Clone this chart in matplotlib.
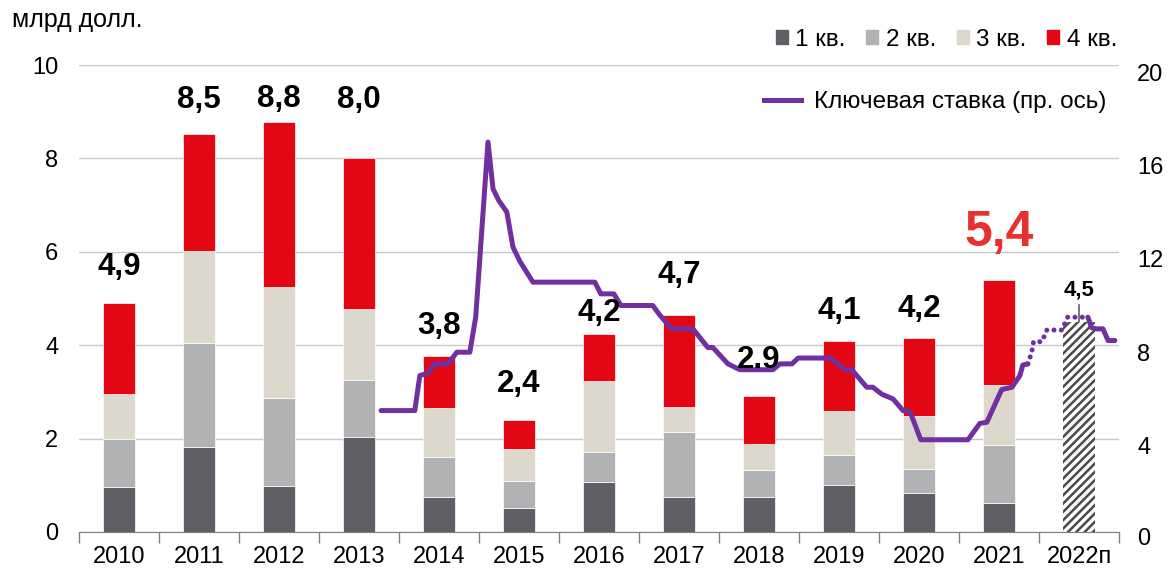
import numpy as np
import pandas as pd
import matplotlib
matplotlib.use('Agg')
import matplotlib.pyplot as plt
from matplotlib.patches import Patch
from matplotlib.lines import Line2D

plt.rcParams['font.family'] = ['Liberation Sans', 'DejaVu Sans']
plt.rcParams['hatch.linewidth'] = 1.8

# investment by quarter, bn USD
years = ['2010', '2011', '2012', '2013', '2014', '2015', '2016',
         '2017', '2018', '2019', '2020', '2021', '2022п']
q1 = [0.96, 1.82, 0.98, 2.03, 0.75, 0.51, 1.07, 0.75, 0.75, 1.00, 0.83, 0.62]
q2 = [1.04, 2.23, 1.89, 1.22, 0.85, 0.58, 0.64, 1.39, 0.58, 0.65, 0.52, 1.24]
q3 = [0.95, 1.97, 2.38, 1.53, 1.05, 0.68, 1.52, 0.53, 0.55, 0.95, 1.13, 1.29]
q4 = [1.95, 2.50, 3.53, 3.22, 1.12, 0.63, 1.02, 1.98, 1.04, 1.48, 1.68, 2.25]
total_labels = ['4,9', '8,5', '8,8', '8,0', '3,8', '2,4', '4,2',
                '4,7', '2.9', '4,1', '4,2', '5,4']
forecast_total = 4.5
forecast_label = '4,5'
quarter_names = ['1 кв.', '2 кв.', '3 кв.', '4 кв.']

# key rate, % (right axis)
rate_dates = ['2013-10-11', '2014-03-14', '2014-04-06', '2014-05-13', '2014-06-13',
              '2014-08-12', '2014-09-22', '2014-11-20', '2014-12-17', '2015-02-11',
              '2015-03-06', '2015-04-01', '2015-05-08', '2015-06-05', '2015-07-06',
              '2015-09-04', '2016-06-13', '2016-07-10', '2016-09-08', '2016-10-10',
              '2017-03-05', '2017-04-05', '2017-05-31', '2017-09-04', '2017-11-11',
              '2017-12-04', '2018-02-11', '2018-04-06', '2018-09-04', '2018-10-06',
              '2018-11-30', '2018-12-28', '2019-05-23', '2019-06-28', '2019-07-30',
              '2019-08-30', '2019-11-06', '2019-12-04', '2020-01-14', '2020-03-05',
              '2020-04-20', '2020-05-22', '2020-07-10', '2021-02-11', '2021-04-06',
              '2021-05-08', '2021-07-15', '2021-08-30', '2021-10-06', '2021-10-19',
              '2021-11-11']
rate_values = [5.5, 5.5, 7.0, 7.1, 7.5,
               7.5, 8.0, 8.0, 9.5, 17.0,
               15.0, 14.5, 14.0, 12.5, 11.9,
               11.0, 11.0, 10.5, 10.5, 10.0,
               10.0, 9.6, 9.0, 9.0, 8.2,
               8.2, 7.5, 7.25, 7.25, 7.5,
               7.5, 7.75, 7.75, 7.5, 7.25,
               7.25, 6.5, 6.5, 6.2, 6.0,
               5.5, 5.45, 4.25, 4.25, 4.95,
               5.0, 6.4, 6.5, 7.0, 7.45,
               7.5]
fcst_dates = ['2021-11-11', '2021-11-29', '2021-12-07', '2022-01-14', '2022-02-06',
              '2022-04-15', '2022-05-12', '2022-08-12']
fcst_values = [7.5, 8.0, 8.45, 8.45, 8.95, 8.95, 9.5, 9.5]
tail_dates = ['2022-08-12', '2022-08-29', '2022-09-18', '2022-10-20', '2022-11-12',
              '2022-12-13']
tail_values = [9.5, 9.05, 9.0, 9.0, 8.5, 8.5]


def to_x(dates):
    d = pd.to_datetime(pd.Series(dates))
    frac = (d.dt.dayofyear - 1) / (365 + d.dt.is_leap_year.astype(int))
    return (d.dt.year + frac - 2010 - 0.5).to_numpy()


colors = ['#5f6066', '#b1b2b4', '#ddd8cc', '#e30613']
purple = '#7030a0'

fig = plt.figure(figsize=(11.68, 5.7), dpi=100)
ax = fig.add_axes([79 / 1168, 38 / 570, 1040 / 1168, 467 / 570])
ax2 = ax.twinx()

x = np.arange(len(years))
n = len(q1)
bottom = np.zeros(n)
for vals, col, lab in zip([q1, q2, q3, q4], colors, quarter_names):
    ax.bar(x[:n], vals, 0.41, bottom=bottom, color=col, edgecolor='white',
           linewidth=0.5, label=lab, zorder=2)
    bottom += np.array(vals)

ax.bar(x[n:], [forecast_total], 0.41, color='white', edgecolor='#4a4a4a',
       hatch='////', linewidth=0, zorder=2)

ax.set_xlim(-0.5, len(years) - 0.5)
ax.set_ylim(0, 10)
ax.set_yticks(np.arange(0, 11, 2))
ax.grid(axis='y', color='#c8c8c8', lw=1)
ax.set_axisbelow(True)
for s in ['left', 'top', 'right']:
    ax.spines[s].set_visible(False)
ax.spines['bottom'].set_color('#7f7f7f')
ax.tick_params(axis='y', length=0, pad=15, labelsize=17)
ax.set_xticks(x)
ax.set_xticklabels(years)
ax.set_xticks(np.arange(-0.5, len(years), 1), minor=True)
ax.tick_params(axis='x', which='major', length=0, pad=10, labelsize=17)
ax.tick_params(axis='x', which='minor', length=8, width=1, color='#7f7f7f')

# right axis
ax2.set_ylim(0.3, 20.3)
ax2.set_yticks([4, 8, 12, 16, 20])
ax2.tick_params(axis='y', length=0, pad=13, labelsize=17)
for s in ax2.spines.values():
    s.set_visible(False)
ax2.annotate('0', xy=(1, 0), xycoords=('axes fraction', 'data'), xytext=(13, 0),
             textcoords='offset points', ha='left', va='center', fontsize=17,
             annotation_clip=False)

ax2.plot(to_x(rate_dates), rate_values, color=purple, lw=3.6,
         solid_joinstyle='round', solid_capstyle='round', zorder=3)
ax2.plot(to_x(fcst_dates), fcst_values, color=purple, lw=3.6,
         linestyle=(0, (0.01, 1.45)), dash_capstyle='round', zorder=3)
ax2.plot(to_x(tail_dates), tail_values, color=purple, lw=3.6,
         solid_joinstyle='round', solid_capstyle='round', zorder=3)

# total labels
label_offsets = [20, 19, 11, 36, 16, 20, 9, 23, 20, 16, 15, 24]
for i, lab in enumerate(total_labels):
    big = i == n - 1
    ax2.annotate(lab, xy=(i, bottom[i]), xycoords=ax.transData,
                 xytext=(0, label_offsets[i]), textcoords='offset points',
                 ha='center', va='baseline', fontweight='bold',
                 fontsize=36 if big else 22.5,
                 color='#e8302f' if big else 'black', zorder=5)
ax2.annotate(forecast_label, xy=(n, forecast_total), xycoords=ax.transData,
             xytext=(0, 19), textcoords='offset points', ha='center',
             va='baseline', fontweight='bold', fontsize=16, zorder=5,
             arrowprops=dict(arrowstyle='-', color='#404040', lw=1,
                             shrinkA=1, shrinkB=0))

fig.text(12 / 1168, 1 - 20 / 570, 'млрд долл.', fontsize=18, va='center', ha='left')

handles = [Patch(color=c) for c in colors]
fig.legend(handles, quarter_names, loc='center right',
           bbox_to_anchor=(1117 / 1168, 1 - 40 / 570), ncol=4, frameon=False,
           fontsize=17.5, handlelength=0.5, handleheight=0.5, handletextpad=0.3,
           columnspacing=0.85, borderaxespad=0, borderpad=0)
fig.legend([Line2D([], [], color=purple, lw=3.6)], ['Ключевая ставка (пр. ось)'],
           loc='center right', bbox_to_anchor=(1106 / 1168, 1 - 102 / 570),
           frameon=False, fontsize=17.5, handlelength=1.55, handletextpad=0.5,
           borderaxespad=0, borderpad=0)

fig.savefig('out.png', dpi=100)
